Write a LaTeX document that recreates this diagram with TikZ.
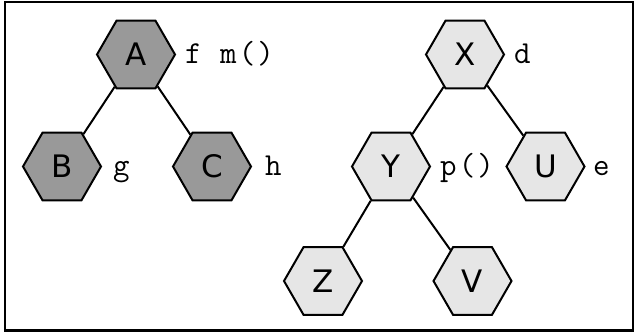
\documentclass[tikz,border=0pt]{standalone}
\usepackage{fontspec}
\setmainfont{DejaVu Sans}
\newfontfamily\lblfont{Latin Modern Mono}[LetterSpace=6.6]
\usetikzlibrary{shapes.geometric}
\definecolor{darkhex}{HTML}{999999}
\definecolor{lighthex}{HTML}{E6E6E6}
\tikzset{
  hexbox/.style={regular polygon, regular polygon sides=6, minimum size=78pt,
    inner sep=0pt, draw=black, line width=2pt,
    font=\fontsize{31}{31}\selectfont},
  darkbox/.style={hexbox, fill=darkhex},
  lightbox/.style={hexbox, fill=lighthex},
  lbl/.style={anchor=base west, inner sep=0pt, font=\lblfont\fontsize{32}{32}\selectfont},
  edge/.style={draw=black, line width=2pt}
}
\begin{document}
\begin{tikzpicture}[x=1pt,y=1pt]
\useasboundingbox (0,0) rectangle (634,333);
\draw[line width=2.5pt] (5,2.5) rectangle (633,331);
% left tree
\node[darkbox] (A) at (136,278.5) {A};
\node[darkbox] (B) at (62,166.5) {B};
\node[darkbox] (C) at (212,166.5) {C};
\draw[edge] (A) -- (B);
\draw[edge] (A) -- (C);
% right tree
\node[lightbox] (X) at (465,278.5) {X};
\node[lightbox] (Y) at (391,166.5) {Y};
\node[lightbox] (U) at (545.5,166.5) {U};
\node[lightbox] (Z) at (323,52) {Z};
\node[lightbox] (V) at (472.5,52) {V};
\draw[edge] (X) -- (Y);
\draw[edge] (X) -- (U);
\draw[edge] (Y) -- (Z);
\draw[edge] (Y) -- (V);
% labels
\node[lbl] (lA) at (185,270) {f m()};
\node[lbl] (lB) at (113,158) {g};
\node[lbl] (lC) at (265,158) {h};
\node[lbl] (lX) at (514,270) {d};
\node[lbl] (lY) at (440,158) {p()};
\node[lbl] (lU) at (593,158) {e};
\end{tikzpicture}
\end{document}
